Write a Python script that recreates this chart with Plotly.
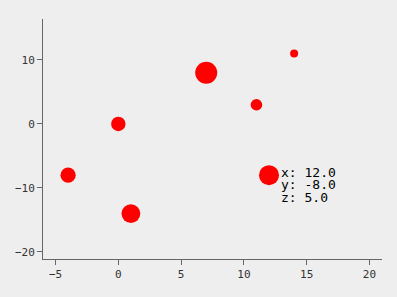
import plotly.graph_objects as go

xs = [-4, 0, 1, 7, 11, 12, 14]
ys = [-8, 0, -14, 8, 3, -8, 11]
zs = [3.8, 3.6, 4.7, 5.5, 2.9, 5.0, 2.0]

label_x, label_y, label_z = 12.0, -8.0, 5.0
label_lines = [f"x: {label_x:.1f}", f"y: {label_y:.1f}", f"z: {label_z:.1f}"]

fig = go.Figure()
fig.add_trace(go.Scatter(
    x=xs, y=ys, mode="markers",
    marker=dict(size=zs, sizemode="diameter", sizeref=0.25, color="#ff0000",
                line=dict(width=0), opacity=1),
    hoverinfo="skip",
))

for i, t in enumerate(label_lines):
    fig.add_annotation(x=label_x, y=label_y, text=t, showarrow=False,
                       xanchor="left", yanchor="middle",
                       xshift=10, yshift=3 - i * 12.5,
                       font=dict(family="DejaVu Sans Mono", size=13, color="#000"))

axis_common = dict(showgrid=False, zeroline=False, showline=True, linecolor="#666",
                   linewidth=1, ticks="outside", ticklen=5, tickcolor="#666",
                   tickfont=dict(family="DejaVu Sans Mono", size=11, color="#333"))

fig.update_layout(
    width=397, height=297,
    margin=dict(l=43, r=15, t=19, b=38),
    paper_bgcolor="#eeeeee", plot_bgcolor="#eeeeee",
    showlegend=False,
    xaxis=dict(range=[-6, 21], tickvals=[-5, 0, 5, 10, 15, 20], **axis_common),
    yaxis=dict(range=[-21.1, 16.4], tickvals=[-20, -10, 0, 10], **axis_common),
)

fig.write_html("out.html")
